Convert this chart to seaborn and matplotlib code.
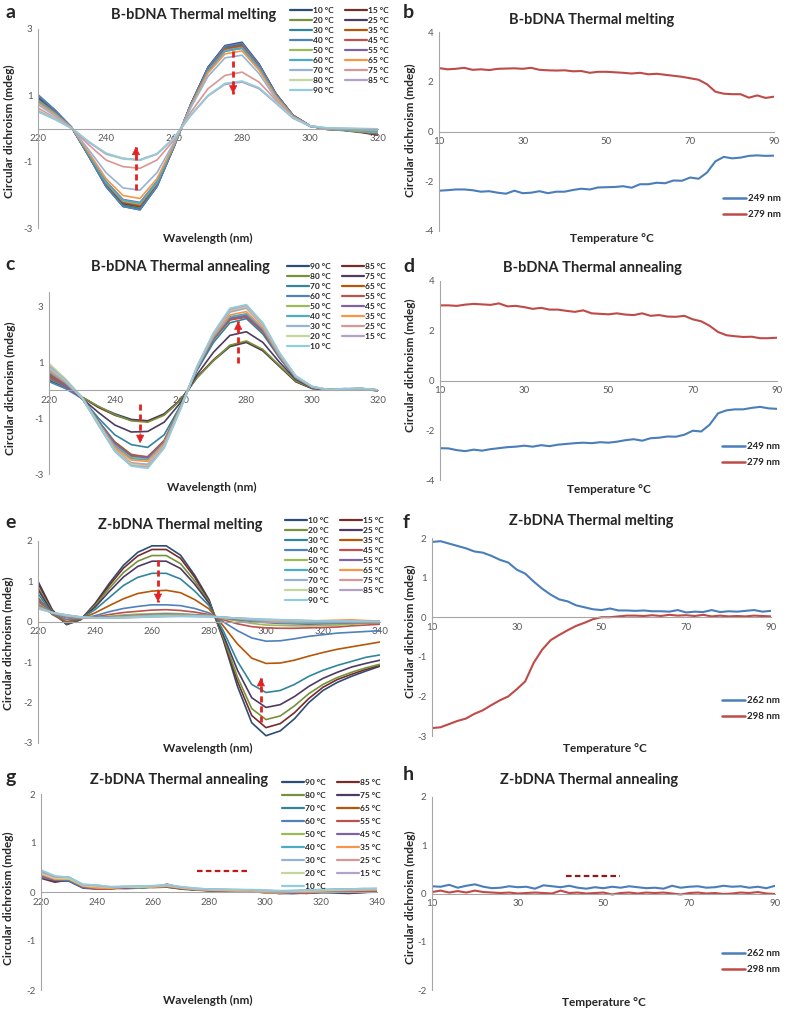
import numpy as np
import pandas as pd
import matplotlib
matplotlib.use('Agg')
import matplotlib.pyplot as plt
from matplotlib.lines import Line2D
import seaborn as sns

sns.set_style('white')
plt.rcParams['font.family'] = ['Lato', 'DejaVu Sans']

W, H = 787, 1011

# --- data ---
wl_b = list(range(220, 321, 5))
wl_z = list(range(220, 341, 5))
temps_up = [10, 15, 20, 25, 30, 35, 40, 45, 50, 55, 60, 65, 70, 75, 80, 85, 90]
temps_down = temps_up[::-1]
temp_axis = list(range(10, 91, 2))

# B-bDNA melting spectra, rows follow temps_up
b_melt = [
    [1.00, 0.55, 0.02, -0.85, -1.75, -2.35, -2.45, -1.75, -0.55, 0.75, 1.85, 2.50, 2.60, 1.95, 1.05, 0.40, 0.08, -0.02, -0.05, -0.10, -0.18],
    [0.95, 0.52, 0.02, -0.83, -1.72, -2.30, -2.40, -1.72, -0.54, 0.74, 1.83, 2.48, 2.57, 1.93, 1.04, 0.40, 0.08, -0.03, -0.06, -0.12, -0.20],
    [0.90, 0.50, 0.01, -0.82, -1.70, -2.28, -2.38, -1.70, -0.53, 0.73, 1.81, 2.45, 2.55, 1.91, 1.03, 0.39, 0.07, -0.02, -0.05, -0.10, -0.15],
    [0.92, 0.51, 0.02, -0.82, -1.68, -2.26, -2.35, -1.68, -0.53, 0.74, 1.81, 2.45, 2.55, 1.91, 1.03, 0.39, 0.08, -0.01, -0.04, -0.08, -0.12],
    [0.98, 0.54, 0.02, -0.84, -1.73, -2.33, -2.43, -1.73, -0.54, 0.73, 1.79, 2.43, 2.52, 1.89, 1.02, 0.39, 0.07, -0.02, -0.05, -0.09, -0.14],
    [0.88, 0.49, 0.01, -0.81, -1.66, -2.23, -2.33, -1.66, -0.52, 0.72, 1.78, 2.40, 2.50, 1.87, 1.01, 0.38, 0.07, -0.01, -0.03, -0.06, -0.10],
    [1.02, 0.56, 0.02, -0.85, -1.75, -2.35, -2.45, -1.75, -0.55, 0.74, 1.83, 2.48, 2.57, 1.93, 1.04, 0.40, 0.08, -0.02, -0.05, -0.10, -0.16],
    [0.86, 0.48, 0.01, -0.80, -1.64, -2.21, -2.30, -1.64, -0.52, 0.71, 1.76, 2.38, 2.47, 1.85, 1.00, 0.38, 0.07, -0.01, -0.04, -0.08, -0.13],
    [0.84, 0.46, 0.01, -0.79, -1.63, -2.19, -2.28, -1.63, -0.51, 0.71, 1.74, 2.35, 2.44, 1.83, 0.99, 0.38, 0.07, -0.02, -0.05, -0.09, -0.12],
    [0.82, 0.45, 0.01, -0.77, -1.59, -2.14, -2.23, -1.59, -0.50, 0.70, 1.72, 2.33, 2.42, 1.81, 0.98, 0.37, 0.07, -0.01, -0.03, -0.05, -0.08],
    [0.85, 0.46, 0.01, -0.78, -1.61, -2.16, -2.25, -1.61, -0.51, 0.70, 1.72, 2.33, 2.42, 1.81, 0.98, 0.37, 0.07, -0.01, -0.04, -0.07, -0.10],
    [0.78, 0.42, 0.01, -0.73, -1.51, -2.02, -2.11, -1.51, -0.47, 0.68, 1.67, 2.25, 2.34, 1.76, 0.95, 0.36, 0.07, 0.00, -0.02, -0.04, -0.06],
    [0.72, 0.38, 0.00, -0.65, -1.33, -1.79, -1.86, -1.33, -0.42, 0.64, 1.57, 2.13, 2.21, 1.66, 0.89, 0.34, 0.06, 0.00, -0.02, -0.03, -0.05],
    [0.62, 0.32, 0.00, -0.50, -0.95, -1.15, -1.20, -0.95, -0.35, 0.50, 1.20, 1.60, 1.70, 1.40, 0.85, 0.35, 0.08, 0.01, -0.01, -0.02, -0.03],
    [0.55, 0.30, 0.00, -0.40, -0.78, -0.92, -0.96, -0.78, -0.30, 0.42, 1.00, 1.35, 1.42, 1.22, 0.78, 0.32, 0.08, 0.01, 0.00, -0.01, -0.02],
    [0.52, 0.28, 0.00, -0.42, -0.76, -0.90, -0.94, -0.76, -0.28, 0.40, 0.98, 1.33, 1.40, 1.20, 0.76, 0.31, 0.07, 0.01, 0.00, -0.01, -0.02],
    [0.50, 0.27, 0.00, -0.40, -0.74, -0.90, -0.95, -0.77, -0.29, 0.41, 0.99, 1.36, 1.43, 1.23, 0.78, 0.32, 0.08, 0.02, 0.01, 0.00, -0.01],
]

# B-bDNA annealing spectra, rows follow temps_down
b_anneal = [
    [0.35, 0.10, -0.25, -0.60, -0.85, -1.05, -1.10, -0.85, -0.35, 0.45, 1.05, 1.55, 1.70, 1.40, 0.85, 0.30, 0.05, 0.02, 0.05, 0.02, -0.02],
    [0.45, 0.15, -0.25, -0.62, -0.90, -1.08, -1.12, -0.88, -0.35, 0.46, 1.08, 1.58, 1.72, 1.42, 0.86, 0.30, 0.06, 0.00, 0.04, 0.05, 0.00],
    [0.40, 0.12, -0.25, -0.58, -0.88, -1.10, -1.15, -0.90, -0.37, 0.44, 1.05, 1.60, 1.75, 1.45, 0.88, 0.32, 0.07, 0.01, 0.03, 0.04, -0.01],
    [0.55, 0.15, -0.30, -0.80, -1.25, -1.50, -1.48, -1.15, -0.45, 0.55, 1.35, 1.95, 2.08, 1.70, 1.00, 0.38, 0.08, 0.00, 0.03, 0.03, -0.02],
    [0.60, 0.20, -0.30, -1.00, -1.60, -1.95, -2.05, -1.60, -0.55, 0.70, 1.70, 2.40, 2.55, 2.00, 1.15, 0.42, 0.10, 0.00, 0.04, 0.05, 0.00],
    [0.50, 0.15, -0.30, -1.10, -1.85, -2.30, -2.40, -1.80, -0.60, 0.75, 1.80, 2.50, 2.62, 2.10, 1.20, 0.45, 0.10, 0.00, 0.03, 0.04, -0.01],
    [0.30, 0.05, -0.30, -1.10, -1.90, -2.35, -2.45, -1.85, -0.62, 0.75, 1.82, 2.55, 2.65, 2.12, 1.20, 0.45, 0.10, 0.00, 0.02, 0.04, -0.03],
    [0.55, 0.20, -0.28, -1.12, -1.92, -2.35, -2.38, -1.82, -0.60, 0.78, 1.85, 2.52, 2.60, 2.08, 1.18, 0.44, 0.10, 0.00, 0.03, 0.05, 0.00],
    [0.90, 0.35, -0.25, -1.15, -1.95, -2.40, -2.45, -1.85, -0.60, 0.78, 1.88, 2.60, 2.70, 2.15, 1.22, 0.45, 0.10, 0.01, 0.04, 0.05, 0.00],
    [0.45, 0.15, -0.30, -1.12, -1.90, -2.35, -2.42, -1.85, -0.62, 0.76, 1.85, 2.56, 2.66, 2.12, 1.20, 0.45, 0.10, 0.00, 0.03, 0.04, -0.01],
    [0.65, 0.25, -0.28, -1.15, -2.00, -2.45, -2.50, -1.90, -0.62, 0.78, 1.88, 2.62, 2.72, 2.18, 1.22, 0.46, 0.11, 0.01, 0.04, 0.05, 0.00],
    [0.70, 0.28, -0.28, -1.18, -2.05, -2.50, -2.55, -1.92, -0.63, 0.80, 1.92, 2.68, 2.80, 2.22, 1.25, 0.47, 0.11, 0.01, 0.03, 0.05, 0.00],
    [0.80, 0.32, -0.25, -1.20, -2.10, -2.60, -2.65, -1.98, -0.65, 0.82, 1.97, 2.78, 2.92, 2.30, 1.28, 0.48, 0.11, 0.00, 0.03, 0.05, -0.01],
    [0.75, 0.30, -0.27, -1.22, -2.12, -2.62, -2.68, -2.00, -0.66, 0.82, 1.98, 2.82, 2.95, 2.32, 1.30, 0.48, 0.12, 0.01, 0.04, 0.05, 0.00],
    [0.95, 0.40, -0.25, -1.20, -2.15, -2.65, -2.72, -2.02, -0.66, 0.83, 2.00, 2.85, 2.98, 2.35, 1.32, 0.49, 0.12, 0.01, 0.04, 0.06, 0.00],
    [0.85, 0.35, -0.27, -1.25, -2.18, -2.70, -2.75, -2.05, -0.67, 0.84, 2.02, 2.88, 3.02, 2.38, 1.33, 0.50, 0.12, 0.00, 0.03, 0.05, -0.01],
    [0.80, 0.33, -0.27, -1.25, -2.20, -2.72, -2.80, -2.08, -0.68, 0.85, 2.05, 2.92, 3.05, 2.40, 1.35, 0.50, 0.13, 0.01, 0.04, 0.06, 0.00],
]

# Z-bDNA melting spectra, rows follow temps_up
z_melt = [
    [1.00, 0.30, -0.07, 0.05, 0.45, 0.95, 1.40, 1.72, 1.88, 1.88, 1.65, 1.15, 0.55, -0.45, -1.60, -2.50, -2.82, -2.70, -2.40, -2.00, -1.70, -1.50, -1.35, -1.22, -1.10],
    [0.95, 0.28, -0.06, 0.06, 0.43, 0.90, 1.33, 1.63, 1.79, 1.79, 1.57, 1.10, 0.52, -0.42, -1.48, -2.32, -2.62, -2.52, -2.25, -1.90, -1.62, -1.43, -1.30, -1.18, -1.08],
    [0.85, 0.25, -0.05, 0.06, 0.40, 0.83, 1.22, 1.50, 1.64, 1.64, 1.44, 1.01, 0.49, -0.38, -1.37, -2.15, -2.42, -2.33, -2.08, -1.78, -1.55, -1.38, -1.25, -1.14, -1.05],
    [0.80, 0.22, -0.05, 0.07, 0.36, 0.75, 1.11, 1.37, 1.50, 1.50, 1.32, 0.93, 0.46, -0.32, -1.20, -1.88, -2.12, -2.05, -1.85, -1.60, -1.40, -1.25, -1.12, -1.03, -0.95],
    [0.70, 0.20, -0.03, 0.08, 0.30, 0.60, 0.90, 1.10, 1.20, 1.20, 1.06, 0.76, 0.40, -0.22, -0.98, -1.55, -1.75, -1.70, -1.55, -1.35, -1.20, -1.08, -0.98, -0.88, -0.82],
    [0.60, 0.18, 0.00, 0.08, 0.22, 0.40, 0.57, 0.70, 0.76, 0.78, 0.72, 0.55, 0.32, -0.10, -0.55, -0.90, -1.03, -1.02, -0.95, -0.85, -0.76, -0.68, -0.62, -0.56, -0.50],
    [0.55, 0.20, 0.05, 0.08, 0.15, 0.25, 0.33, 0.38, 0.42, 0.42, 0.40, 0.33, 0.22, 0.00, -0.22, -0.40, -0.48, -0.47, -0.42, -0.36, -0.32, -0.28, -0.26, -0.24, -0.22],
    [0.50, 0.22, 0.10, 0.08, 0.12, 0.18, 0.23, 0.26, 0.29, 0.30, 0.28, 0.24, 0.18, 0.05, -0.05, -0.12, -0.15, -0.16, -0.16, -0.15, -0.14, -0.13, -0.10, -0.08, -0.06],
    [0.45, 0.22, 0.12, 0.09, 0.10, 0.14, 0.17, 0.19, 0.20, 0.21, 0.20, 0.18, 0.16, 0.08, 0.02, -0.04, -0.08, -0.09, -0.10, -0.10, -0.09, -0.08, -0.06, -0.04, -0.03],
    [0.42, 0.22, 0.13, 0.10, 0.10, 0.12, 0.14, 0.16, 0.18, 0.19, 0.18, 0.17, 0.15, 0.10, 0.05, 0.01, -0.02, -0.04, -0.05, -0.06, -0.05, -0.04, -0.03, -0.02, -0.02],
    [0.40, 0.22, 0.14, 0.10, 0.10, 0.11, 0.13, 0.15, 0.17, 0.18, 0.18, 0.17, 0.15, 0.11, 0.07, 0.03, 0.00, -0.02, -0.03, -0.03, -0.03, -0.02, -0.02, -0.01, -0.01],
    [0.38, 0.22, 0.15, 0.10, 0.09, 0.10, 0.12, 0.14, 0.15, 0.16, 0.16, 0.15, 0.14, 0.11, 0.08, 0.05, 0.03, 0.02, 0.02, 0.02, 0.03, 0.04, 0.05, 0.03, 0.02],
    [0.36, 0.22, 0.15, 0.11, 0.09, 0.10, 0.11, 0.13, 0.14, 0.15, 0.15, 0.15, 0.14, 0.11, 0.09, 0.06, 0.04, 0.03, 0.02, 0.02, 0.02, 0.02, 0.02, 0.01, 0.01],
    [0.35, 0.23, 0.16, 0.11, 0.09, 0.10, 0.11, 0.12, 0.13, 0.14, 0.15, 0.14, 0.13, 0.11, 0.09, 0.07, 0.05, 0.04, 0.03, 0.02, 0.02, 0.01, 0.01, 0.01, 0.00],
    [0.34, 0.23, 0.16, 0.12, 0.10, 0.10, 0.10, 0.12, 0.13, 0.14, 0.14, 0.14, 0.13, 0.11, 0.09, 0.07, 0.05, 0.04, 0.03, 0.02, 0.01, 0.01, 0.01, 0.00, 0.00],
    [0.33, 0.23, 0.17, 0.12, 0.10, 0.10, 0.10, 0.11, 0.12, 0.13, 0.14, 0.13, 0.13, 0.11, 0.09, 0.07, 0.06, 0.05, 0.04, 0.03, 0.02, 0.02, 0.01, 0.01, 0.01],
    [0.32, 0.23, 0.17, 0.12, 0.10, 0.09, 0.10, 0.11, 0.12, 0.13, 0.13, 0.13, 0.12, 0.11, 0.09, 0.08, 0.06, 0.05, 0.04, 0.03, 0.02, 0.02, 0.02, 0.01, 0.01],
]

# Z-bDNA annealing spectra, rows follow temps_down
z_anneal = [
    [0.30, 0.22, 0.22, 0.08, 0.06, 0.08, 0.07, 0.08, 0.10, 0.10, 0.06, 0.04, 0.03, 0.02, 0.01, 0.02, 0.00, -0.02, -0.03, -0.02, -0.01, -0.02, -0.03, -0.01, 0.00],
    [0.28, 0.20, 0.25, 0.10, 0.07, 0.08, 0.08, 0.09, 0.10, 0.15, 0.08, 0.05, 0.03, 0.02, 0.02, 0.01, 0.01, -0.03, -0.02, -0.02, -0.01, 0.00, -0.02, -0.01, 0.01],
    [0.35, 0.25, 0.30, 0.12, 0.08, 0.07, 0.09, 0.08, 0.11, 0.12, 0.07, 0.05, 0.04, 0.03, 0.02, 0.02, 0.00, -0.01, -0.02, 0.00, 0.00, 0.01, 0.00, 0.01, 0.02],
    [0.32, 0.22, 0.24, 0.10, 0.07, 0.09, 0.08, 0.10, 0.12, 0.13, 0.08, 0.04, 0.03, 0.03, 0.02, 0.01, 0.01, -0.02, -0.01, -0.02, 0.00, 0.00, 0.01, 0.02, 0.01],
    [0.38, 0.28, 0.28, 0.12, 0.09, 0.08, 0.10, 0.09, 0.12, 0.13, 0.09, 0.06, 0.04, 0.03, 0.02, 0.03, 0.01, 0.00, -0.01, 0.01, 0.01, 0.02, 0.02, 0.03, 0.03],
    [0.36, 0.26, 0.27, 0.11, 0.08, 0.06, 0.10, 0.11, 0.09, 0.10, 0.07, 0.05, 0.03, 0.02, 0.03, 0.02, -0.02, -0.01, -0.02, 0.00, 0.01, 0.02, 0.03, 0.02, 0.03],
    [0.30, 0.24, 0.23, 0.09, 0.07, 0.08, 0.09, 0.09, 0.11, 0.11, 0.08, 0.05, 0.03, 0.02, 0.01, 0.01, 0.00, -0.03, -0.03, -0.02, 0.00, 0.01, -0.01, 0.01, 0.02],
    [0.33, 0.25, 0.26, 0.10, 0.06, 0.07, 0.08, 0.10, 0.10, 0.16, 0.09, 0.06, 0.04, 0.02, 0.02, 0.02, 0.01, -0.01, -0.02, -0.03, 0.00, 0.01, 0.00, 0.02, 0.03],
    [0.40, 0.28, 0.29, 0.13, 0.09, 0.09, 0.10, 0.09, 0.11, 0.12, 0.09, 0.06, 0.05, 0.04, 0.03, 0.03, 0.02, 0.01, 0.01, 0.02, 0.02, 0.03, 0.03, 0.04, 0.04],
    [0.34, 0.25, 0.27, 0.11, 0.08, 0.08, 0.09, 0.10, 0.11, 0.12, 0.08, 0.05, 0.04, 0.03, 0.02, 0.02, 0.01, -0.01, 0.00, 0.01, 0.02, 0.02, 0.01, 0.03, 0.04],
    [0.42, 0.30, 0.30, 0.14, 0.10, 0.10, 0.10, 0.11, 0.12, 0.14, 0.10, 0.06, 0.05, 0.04, 0.03, 0.03, 0.02, 0.01, 0.01, 0.02, 0.03, 0.03, 0.04, 0.05, 0.05],
    [0.36, 0.26, 0.26, 0.12, 0.08, 0.08, 0.10, 0.11, 0.10, 0.12, 0.08, 0.05, 0.04, 0.03, 0.02, 0.02, -0.01, -0.02, 0.00, 0.01, 0.02, 0.03, 0.03, 0.04, 0.04],
    [0.42, 0.30, 0.28, 0.14, 0.12, 0.10, 0.10, 0.11, 0.12, 0.13, 0.10, 0.07, 0.05, 0.05, 0.04, 0.04, 0.03, 0.02, 0.02, 0.03, 0.04, 0.05, 0.05, 0.06, 0.06],
    [0.40, 0.30, 0.29, 0.15, 0.14, 0.10, 0.11, 0.11, 0.12, 0.14, 0.10, 0.07, 0.06, 0.05, 0.04, 0.04, 0.03, 0.02, 0.02, 0.03, 0.04, 0.05, 0.06, 0.06, 0.07],
    [0.38, 0.28, 0.27, 0.13, 0.11, 0.09, 0.10, 0.10, 0.11, 0.13, 0.09, 0.06, 0.05, 0.04, 0.03, 0.03, 0.02, 0.01, 0.01, 0.02, 0.03, 0.04, 0.05, 0.05, 0.06],
    [0.41, 0.31, 0.30, 0.15, 0.13, 0.10, 0.11, 0.12, 0.12, 0.14, 0.10, 0.07, 0.06, 0.05, 0.05, 0.04, 0.03, 0.02, 0.03, 0.04, 0.05, 0.06, 0.06, 0.07, 0.07],
    [0.45, 0.33, 0.30, 0.16, 0.14, 0.11, 0.12, 0.12, 0.13, 0.15, 0.11, 0.08, 0.06, 0.06, 0.05, 0.05, 0.04, 0.03, 0.03, 0.04, 0.05, 0.05, 0.06, 0.07, 0.07],
]

# single-wavelength thermal profiles (temp_axis)
b_249 = [-2.38, -2.36, -2.33, -2.33, -2.36, -2.42, -2.40, -2.46, -2.50, -2.38, -2.48, -2.46, -2.40, -2.48, -2.42, -2.42, -2.35, -2.30, -2.33, -2.25, -2.24,
         -2.23, -2.20, -2.26, -2.12, -2.12, -2.06, -2.08, -1.97, -1.98, -1.85, -1.90, -1.65, -1.20, -1.02, -1.08, -1.05, -0.98, -0.96, -0.98, -0.97]
b_279 = [2.55, 2.50, 2.52, 2.56, 2.48, 2.50, 2.47, 2.52, 2.53, 2.54, 2.52, 2.56, 2.48, 2.46, 2.45, 2.46, 2.42, 2.43, 2.36, 2.40, 2.40,
         2.38, 2.36, 2.33, 2.36, 2.30, 2.32, 2.28, 2.24, 2.20, 2.14, 2.08, 1.90, 1.60, 1.52, 1.50, 1.50, 1.36, 1.45, 1.35, 1.40]
d_249 = [-2.72, -2.73, -2.80, -2.84, -2.78, -2.82, -2.76, -2.72, -2.68, -2.66, -2.62, -2.66, -2.60, -2.64, -2.58, -2.55, -2.52, -2.50, -2.52, -2.48, -2.50,
         -2.46, -2.40, -2.36, -2.42, -2.32, -2.30, -2.25, -2.26, -2.18, -2.02, -2.05, -1.78, -1.32, -1.20, -1.16, -1.16, -1.10, -1.06, -1.12, -1.14]
d_279 = [3.02, 3.02, 3.00, 3.05, 3.08, 3.06, 3.04, 3.10, 2.98, 3.00, 2.95, 2.88, 2.92, 2.85, 2.85, 2.80, 2.76, 2.82, 2.70, 2.68, 2.66,
         2.70, 2.65, 2.63, 2.70, 2.60, 2.63, 2.57, 2.56, 2.60, 2.46, 2.38, 2.20, 1.95, 1.82, 1.78, 1.75, 1.76, 1.70, 1.70, 1.72]
f_262 = [1.90, 1.92, 1.86, 1.80, 1.74, 1.66, 1.63, 1.55, 1.45, 1.38, 1.20, 1.10, 0.90, 0.72, 0.57, 0.45, 0.40, 0.30, 0.25, 0.20, 0.18,
         0.22, 0.17, 0.17, 0.16, 0.17, 0.15, 0.15, 0.14, 0.18, 0.12, 0.14, 0.13, 0.18, 0.13, 0.15, 0.14, 0.16, 0.18, 0.14, 0.16]
f_298 = [-2.80, -2.78, -2.70, -2.62, -2.56, -2.44, -2.35, -2.22, -2.10, -2.00, -1.82, -1.62, -1.15, -0.82, -0.58, -0.45, -0.33, -0.22, -0.14, -0.05, 0.00,
         0.00, 0.02, 0.04, 0.04, 0.03, 0.05, 0.03, 0.06, 0.04, 0.05, 0.03, 0.06, 0.02, 0.04, 0.02, 0.03, 0.02, 0.04, 0.03, 0.02]
h_262 = [0.15, 0.14, 0.18, 0.12, 0.16, 0.19, 0.14, 0.11, 0.12, 0.15, 0.13, 0.14, 0.10, 0.17, 0.15, 0.13, 0.16, 0.12, 0.10, 0.13, 0.11,
         0.14, 0.12, 0.15, 0.13, 0.11, 0.12, 0.10, 0.16, 0.12, 0.14, 0.15, 0.12, 0.13, 0.16, 0.14, 0.15, 0.12, 0.14, 0.11, 0.16]
h_298 = [0.03, 0.06, 0.02, 0.05, 0.02, 0.06, 0.03, 0.02, 0.01, 0.02, 0.00, 0.01, 0.02, 0.01, 0.00, 0.06, 0.01, 0.02, 0.00, 0.01, 0.02,
         -0.02, 0.01, 0.02, 0.00, 0.02, 0.01, 0.02, 0.00, -0.02, 0.01, 0.02, 0.00, 0.01, -0.01, 0.00, 0.02, 0.01, 0.03, 0.00, -0.01]

series_colors = ['#2C4D75', '#772C2A', '#76923C', '#4D3B62', '#31859C', '#B65708',
                 '#4F81BD', '#C0504D', '#9BBB59', '#8064A2', '#4BACC6', '#F79646',
                 '#95B3D7', '#D99694', '#C3D69B', '#B3A2C7', '#93CDDD']
blue_line, red_line = '#4A7EBB', '#BE4B48'
arrow_red = '#E32222'
axis_gray = '#A6A6A6'
tick_gray = '#595959'

fig = plt.figure(figsize=(W / 100, H / 100), dpi=100)


def px_axes(l, t, r, b):
    return fig.add_axes([l / W, 1 - b / H, (r - l) / W, (b - t) / H])


def style(ax, xlim, ylim, xticks, yticks, yminor):
    ax.set_xlim(*xlim)
    ax.set_ylim(*ylim)
    ax.patch.set_alpha(0)
    for s in ['top', 'right']:
        ax.spines[s].set_visible(False)
    ax.spines['bottom'].set_position(('data', 0))
    for s in ['left', 'bottom']:
        ax.spines[s].set_color(axis_gray)
        ax.spines[s].set_linewidth(0.8)
    ax.set_xticks(xticks)
    ax.set_yticks(yticks)
    ax.set_yticks(yminor, minor=True)
    ax.set_yticklabels([f'{v:g}' for v in yticks])
    ax.tick_params(axis='both', which='both', direction='out', length=3, width=0.7,
                   color=axis_gray, labelsize=7, labelcolor=tick_gray, pad=1)
    ax.tick_params(axis='y', which='minor', length=2)
    ax.set_xlabel('')
    ax.set_ylabel('')


def spectra(ax, wl, rows, temps):
    labels = [f'{t} °C' for t in temps]
    df = pd.DataFrame({
        'wl': np.tile(wl, len(temps)),
        'cd': np.concatenate(rows),
        'temp': np.repeat(labels, len(wl)),
    })
    sns.lineplot(data=df, x='wl', y='cd', hue='temp', hue_order=labels,
                 palette=series_colors, ax=ax, lw=1.2, legend=False,
                 estimator=None, sort=False)
    return labels


def spectra_legend(labels, x, y, spacing):
    handles = [Line2D([], [], color=c, lw=1.6) for c in series_colors]
    order = list(range(0, 17, 2)) + list(range(1, 17, 2))
    fig.legend([handles[i] for i in order], [labels[i] for i in order], ncol=2,
               loc='upper left', bbox_to_anchor=(x / W, 1 - y / H), frameon=False,
               prop={'weight': 'bold', 'size': 6}, handlelength=2.6, handletextpad=0.2,
               columnspacing=1.3, labelspacing=spacing, borderpad=0, borderaxespad=0)


def profiles(ax, a, b, names, x, y):
    df = pd.DataFrame({
        'T': temp_axis * 2,
        'cd': a + b,
        'nm': [names[0]] * len(a) + [names[1]] * len(b),
    })
    sns.lineplot(data=df, x='T', y='cd', hue='nm', hue_order=names,
                 palette=[blue_line, red_line], ax=ax, lw=1.5, legend=False,
                 estimator=None, sort=False)
    handles = [Line2D([], [], color=c, lw=1.8) for c in [blue_line, red_line]]
    fig.legend(handles, names, loc='upper left', bbox_to_anchor=(x / W, 1 - y / H),
               frameon=False, prop={'weight': 'bold', 'size': 7}, handlelength=2.4,
               handletextpad=0.2, labelspacing=0.75, borderpad=0, borderaxespad=0)


def dashed_arrow(ax, x, y0, y1):
    ax.plot([x, x], [y0, y1], color=arrow_red, lw=2, ls=(0, (2.2, 1.4)), zorder=5)
    off = -9 if y1 > y0 else 9
    ax.annotate('', xy=(x, y1), xytext=(0, off), textcoords='offset points',
                arrowprops=dict(arrowstyle='-|>', color=arrow_red, lw=0.5,
                                mutation_scale=13, shrinkA=0, shrinkB=0), zorder=6)


def panel_text(letter, lx, ly, title, tx, ty, xlabel, xx, xy, yx, yy):
    fig.text(lx / W, 1 - ly / H, letter, fontsize=14, fontweight='bold', ha='left', va='center')
    fig.text(tx / W, 1 - ty / H, title, fontsize=10.5, fontweight='bold', ha='center', va='center')
    fig.text(xx / W, 1 - xy / H, xlabel, fontsize=8.5, fontweight='bold', ha='center', va='center')
    fig.text(yx / W, 1 - yy / H, 'Circular dichroism (mdeg)', fontsize=8.5, fontweight='bold',
             ha='center', va='center', rotation=90)


# --- a ---
ax = px_axes(38, 29, 378, 228)
lab = spectra(ax, wl_b, b_melt, temps_up)
style(ax, (220, 320), (-3, 3), range(220, 321, 20), [-3, -1, 1, 3], [-2, 0, 2])
dashed_arrow(ax, 277.4, 2.35, 1.05)
dashed_arrow(ax, 248.8, -1.85, -0.55)
spectra_legend(lab, 290, 7, 0.36)
panel_text('a', 5, 13, 'B-bDNA Thermal melting', 194, 15, 'Wavelength (nm)', 208, 238, 9, 131)

# --- b ---
ax = px_axes(439, 32, 774, 231)
profiles(ax, b_249, b_279, ['249 nm', '279 nm'], 723, 194)
style(ax, (10, 90), (-4, 4), range(10, 91, 20), [-4, -2, 0, 2, 4], [-3, -1, 1, 3])
panel_text('b', 403, 13, 'B-bDNA Thermal melting', 592, 20, 'Temperature °C', 612, 238, 410, 130)

# --- c ---
ax = px_axes(49, 292, 378, 474)
lab = spectra(ax, wl_b, b_anneal, temps_down)
style(ax, (220, 320), (-3, 3.5), range(220, 321, 20), [-3, -1, 1, 3], [-2, 0, 2])
dashed_arrow(ax, 247.7, -0.5, -1.9)
dashed_arrow(ax, 277.5, 0.95, 2.45)
spectra_legend(lab, 287, 263, 0.36)
panel_text('c', 5, 265, 'B-bDNA Thermal annealing', 180, 267, 'Wavelength (nm)', 212, 487, 10, 388)

# --- d ---
ax = px_axes(440, 281, 777, 480)
profiles(ax, d_249, d_279, ['249 nm', '279 nm'], 722, 442)
style(ax, (10, 90), (-4, 4), range(10, 91, 20), [-4, -2, 0, 2, 4], [-3, -1, 1, 3])
panel_text('d', 403, 267, 'B-bDNA Thermal annealing', 592, 268, 'Temperature °C', 609, 490, 410, 365)

# --- e ---
ax = px_axes(38, 541, 380, 743)
lab = spectra(ax, wl_z, z_melt, temps_up)
style(ax, (220, 340), (-3, 2), range(220, 341, 20), [-3, -2, -1, 0, 1, 2],
      [-2.5, -1.5, -0.5, 0.5, 1.5])
dashed_arrow(ax, 262.1, 1.53, 0.49)
dashed_arrow(ax, 298.2, -2.48, -1.39)
spectra_legend(lab, 285, 517, 0.36)
panel_text('e', 5, 523, 'Z-bDNA Thermal melting', 180, 525, 'Wavelength (nm)', 208, 748, 8, 643)

# --- f ---
ax = px_axes(432, 538, 771, 736)
profiles(ax, f_262, f_298, ['262 nm', '298 nm'], 722, 696)
style(ax, (10, 90), (-3, 2), range(10, 91, 20), [-3, -2, -1, 0, 1, 2],
      [-2.5, -1.5, -0.5, 0.5, 1.5])
panel_text('f', 403, 522, 'Z-bDNA Thermal melting', 591, 521, 'Temperature °C', 605, 748, 410, 631)

# --- g ---
ax = px_axes(41, 794, 377, 990)
lab = spectra(ax, wl_z, z_anneal, temps_down)
style(ax, (220, 340), (-2, 2), range(220, 341, 20), [-2, -1, 0, 1, 2], [-1.5, -0.5, 0.5, 1.5])
ax.plot([275.7, 294.6], [0.43, 0.43], color='#C0181C', lw=1.6, ls=(0, (2.5, 1.5)))
spectra_legend(lab, 282, 779, 0.72)
panel_text('g', 5, 777, 'Z-bDNA Thermal annealing', 179, 780, 'Wavelength (nm)', 208, 1000, 8, 898)

# --- h ---
ax = px_axes(432, 797, 775, 990)
profiles(ax, h_262, h_298, ['262 nm', '298 nm'], 722, 949)
style(ax, (10, 90), (-2, 2), range(10, 91, 20), [-2, -1, 0, 1, 2], [-1.5, -0.5, 0.5, 1.5])
ax.plot([41.3, 53.8], [0.36, 0.36], color='#8B1A1A', lw=1.6, ls=(0, (2.5, 1.5)))
panel_text('h', 403, 775, 'Z-bDNA Thermal annealing', 589, 780, 'Temperature °C', 604, 1002, 410, 897)

fig.savefig('out.png', dpi=100)
